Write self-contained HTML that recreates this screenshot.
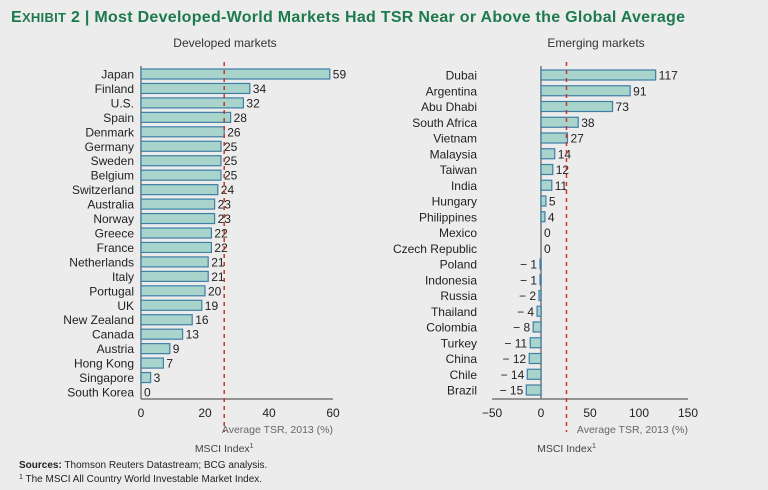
<!DOCTYPE html>
<html><head><meta charset="utf-8"><style>
body{margin:0;background:#ececec;}
svg{display:block;font-family:"Liberation Sans",sans-serif;}
</style></head><body>
<svg id="c" width="768" height="490" viewBox="0 0 768 490">
<rect width="768" height="490" fill="#ececec"/>
<text x="11" y="22" font-size="16" font-weight="bold" fill="#1d7a4e" textLength="674" lengthAdjust="spacing">E<tspan font-size="13">XHIBIT</tspan> 2 | Most Developed-World Markets Had TSR Near or Above the Global Average</text>
<text x="225" y="47" font-size="12" fill="#333" text-anchor="middle">Developed markets</text>
<text x="596" y="47" font-size="12" fill="#333" text-anchor="middle">Emerging markets</text>
<g id="left"></g><g id="right"></g>
<text x="19" y="468" font-size="10" fill="#222"><tspan font-weight="bold">Sources:</tspan> Thomson Reuters Datastream; BCG analysis.</text>
<text x="19" y="482" font-size="10" fill="#222"><tspan font-size="7" dy="-3">1</tspan><tspan dy="3"> The MSCI All Country World Investable Market Index.</tspan></text>
</svg>
<script>
const devCats=["Japan","Finland","U.S.","Spain","Denmark","Germany","Sweden","Belgium","Switzerland","Australia","Norway","Greece","France","Netherlands","Italy","Portugal","UK","New Zealand","Canada","Austria","Hong Kong","Singapore","South Korea"];
const devVals=[59,34,32,28,26,25,25,25,24,23,23,22,22,21,21,20,19,16,13,9,7,3,0];
const devTicks=[0,20,40,60];
const emCats=["Dubai","Argentina","Abu Dhabi","South Africa","Vietnam","Malaysia","Taiwan","India","Hungary","Philippines","Mexico","Czech Republic","Poland","Indonesia","Russia","Thailand","Colombia","Turkey","China","Chile","Brazil"];
const emVals=[117,91,73,38,27,14,12,11,5,4,0,0,-1,-1,-2,-4,-8,-11,-12,-14,-15];
const emTicks=[-50,0,50,100,150];
const msci=[26];
const NS="http://www.w3.org/2000/svg";
function mk(p,t,a,txt){const e=document.createElementNS(NS,t);for(const k in a)e.setAttribute(k,a[k]);if(txt!==undefined)e.textContent=txt;p.appendChild(e);return e;}
function panel(g,cats,vals,ticks,x0,x1,d0,d1,yTop,yBot,labMin,name){
 const sx=v=>x0+(v-d0)/(d1-d0)*(x1-x0);
 const step=(yBot-yTop)/(cats.length-1);
 const sy=i=>yTop+i*step;
 const zx=sx(0), axY=399;
 mk(g,"line",{x1:zx,y1:66,x2:zx,y2:axY,stroke:"#777","stroke-width":1.5});
 mk(g,"line",{x1:sx(d0),y1:axY,x2:sx(d1),y2:axY,stroke:"#777","stroke-width":1.5});
 cats.forEach((c,i)=>{
  const v=vals[i],y=sy(i);
  const l=mk(g,"text",{x:labMin,y:y+4.5,"font-size":12,fill:"#222","text-anchor":"end"},c);
  
  
  const a=Math.min(sx(v),zx),w=Math.abs(sx(v)-zx);
  if(w>0){const r=mk(g,"rect",{x:a,y:y-5,width:w,height:10,fill:"#a9d4cb",stroke:"#3e7fa6","stroke-width":1.2});
  
  }
  const lbl=v<0?"\u2212 "+Math.abs(v):String(v);
  const t=mk(g,"text",{x:v<0?sx(v)-3:sx(v)+3,y:y+4.5,"font-size":12,fill:"#222","text-anchor":v<0?"end":"start"},lbl);
  
  
 });
 ticks.forEach(tk=>{const t=mk(g,"text",{x:sx(tk),y:417,"font-size":12,fill:"#222","text-anchor":"middle"},tk<0?"\u2212"+Math.abs(tk):String(tk));
  
  });
 const mx=sx(msci[0]);
 const dl=mk(g,"line",{x1:mx,y1:62,x2:mx,y2:432,stroke:"#c0392b","stroke-width":1.5,"stroke-dasharray":"4,4"});
 
 
 const at=mk(g,"text",{x:sx(d1),y:433,"font-size":10.5,fill:"#666","text-anchor":"end"},"Average TSR, 2013 (%)");
 
 
 const mt=mk(g,"text",{x:mx,y:452,"font-size":10.5,fill:"#444","text-anchor":"middle"},"MSCI Index");
 
 
 mk(mt,"tspan",{"font-size":7,dy:-4},"1");
}
panel(document.getElementById("left"),devCats,devVals,devTicks,141,333,0,60,74,392,134,"dev");
panel(document.getElementById("right"),emCats,emVals,emTicks,492,688,-50,150,75,390,477,"em");
</script>
</body></html>
